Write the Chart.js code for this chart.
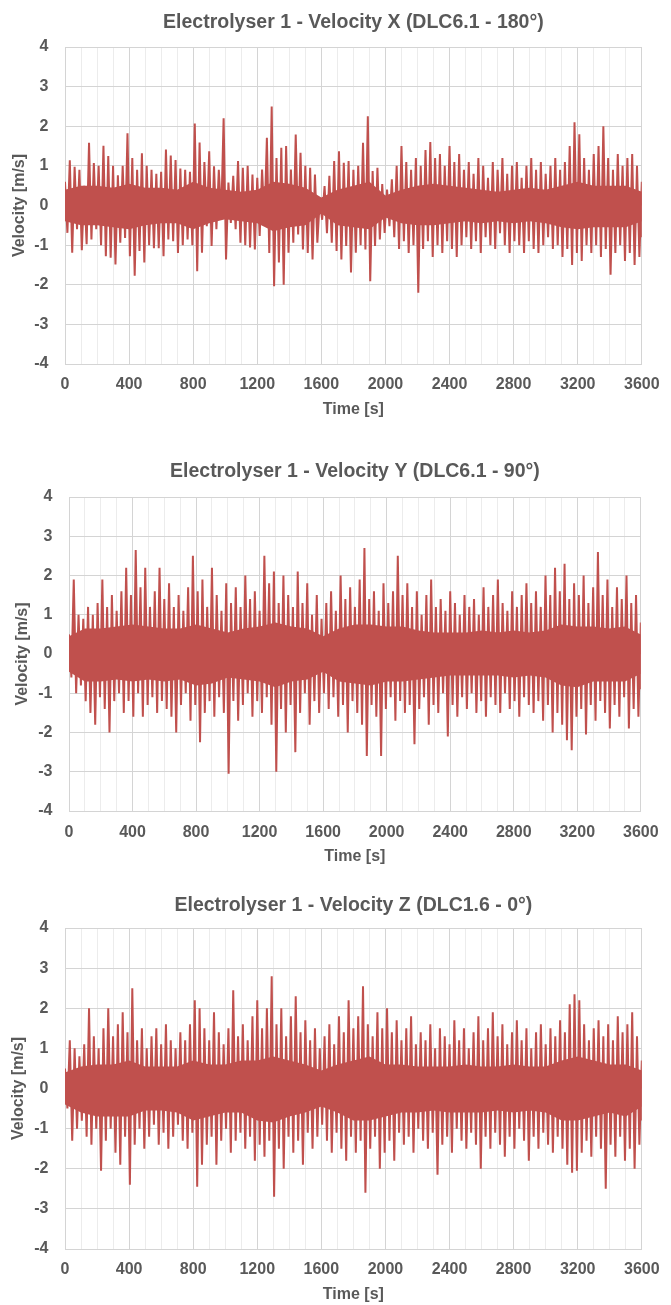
<!DOCTYPE html>
<html>
<head>
<meta charset="utf-8">
<script src="https://cdn.jsdelivr.net/npm/chart.js@4.4.1/dist/chart.umd.min.js"></script>
<style>
  html, body { margin: 0; padding: 0; background: #fff; }
  body { width: 671px; height: 1305px; position: relative; overflow: hidden; }
  .box { position: absolute; left: 0; width: 671px; }
</style>
</head>
<body>
<div class="box" style="top:0px;height:440px"><canvas id="chartX"></canvas></div>
<div class="box" style="top:440px;height:440px"><canvas id="chartY"></canvas></div>
<div class="box" style="top:880px;height:425px"><canvas id="chartZ"></canvas></div>
<script>
// time step between successive peaks (s); each step holds one upper and one lower value
const STEP = 30;
// the dense solid band of the signal is read every 100 s
const CORE_STEP = 100;

// Velocity X (DLC6.1 - 180 deg), upper / lower excursions every 30 s, 0..3600
const velXHigh = [
  0.6, 1.14, 0.98, 0.9, 0.5, 1.58, 1.07, 1.0, 1.51, 1.25,
  1.0, 0.76, 1.0, 1.82, 1.2, 0.9, 1.32, 1.0, 0.9, 0.8,
  0.85, 1.41, 1.26, 1.15, 0.93, 0.9, 0.85, 2.07, 1.59, 1.1,
  1.37, 0.99, 0.9, 2.2, 0.58, 0.75, 1.12, 0.95, 1.0, 0.78,
  0.7, 0.91, 1.71, 2.5, 1.2, 1.46, 1.5, 0.91, 1.79, 1.33,
  1.0, 0.95, 0.78, 0.15, 0.49, 0.75, 1.12, 1.37, 1.08, 1.12,
  0.9, 1.0, 1.58, 2.25, 0.87, 0.95, 0.54, 0.4, 0.66, 1.0,
  1.5, 1.1, 0.9, 1.2, 1.0, 1.4, 1.6, 1.2, 1.3, 1.0,
  1.5, 1.1, 1.3, 0.9, 1.1, 0.8, 1.2, 1.0, 0.7, 1.1,
  0.9, 1.2, 0.8, 1.0, 1.1, 0.7, 1.0, 1.2, 0.9, 1.1,
  0.8, 1.0, 1.2, 0.9, 1.1, 1.5, 2.1, 1.8, 1.2, 0.9,
  1.3, 1.5, 2.0, 1.2, 0.9, 1.3, 1.0, 1.2, 1.3, 1.0,
  0.6
];
const velXLow = [
  -0.69, -1.19, -0.6, -1.13, -0.98, -0.86, -0.6, -1.0, -1.28, -1.32,
  -1.49, -0.94, -0.82, -1.28, -1.77, -1.15, -1.44, -1.0, -1.08, -1.08,
  -1.28, -0.86, -0.9, -1.2, -1.0, -0.86, -1.0, -1.66, -1.19, -0.52,
  -1.02, -0.6, -0.27, -1.36, -0.44, -0.6, -0.94, -1.0, -1.06, -1.11,
  -0.77, -0.44, -1.2, -2.04, -1.44, -2.0, -1.19, -0.94, -0.73, -1.11,
  -1.2, -1.36, -0.94, -0.36, -0.7, -0.94, -1.15, -1.36, -1.02, -1.69,
  -1.19, -1.0, -1.11, -1.91, -1.02, -0.86, -0.69, -0.52, -0.8, -1.1,
  -0.9, -1.2, -1.0, -2.2, -1.1, -0.9, -1.3, -1.0, -1.2, -0.9,
  -1.1, -1.3, -1.0, -0.8, -1.1, -0.9, -1.2, -0.8, -1.0, -1.1,
  -0.7, -1.0, -1.2, -0.9, -1.0, -1.2, -0.9, -1.1, -1.2, -1.0,
  -0.8, -1.1, -1.0, -1.3, -1.1, -1.5, -1.2, -1.4, -1.0, -1.2,
  -1.0, -1.3, -1.1, -1.75, -1.2, -1.0, -1.4, -1.2, -1.5, -1.3,
  -0.8
];
const velXCoreHigh = [
  0.4, 0.5, 0.5, 0.45, 0.55, 0.45, 0.45, 0.4, 0.6, 0.45,
  0.4, 0.35, 0.4, 0.6, 0.55, 0.45, 0.2, 0.4, 0.5, 0.6,
  0.25, 0.4, 0.5, 0.55, 0.5, 0.45, 0.4, 0.35, 0.4, 0.45,
  0.4, 0.5, 0.6, 0.5, 0.5, 0.5, 0.35
];
const velXCoreLow = [
  -0.4, -0.5, -0.5, -0.55, -0.6, -0.5, -0.45, -0.45, -0.6, -0.45,
  -0.35, -0.4, -0.45, -0.65, -0.55, -0.5, -0.2, -0.5, -0.55, -0.6,
  -0.3, -0.45, -0.5, -0.5, -0.45, -0.4, -0.45, -0.4, -0.45, -0.4,
  -0.45, -0.55, -0.6, -0.55, -0.55, -0.55, -0.4
];

// Velocity Y (DLC6.1 - 90 deg)
const velYHigh = [
  0.5, 1.9, 1.0, 0.9, 1.2, 1.0, 1.3, 1.9, 1.2, 1.5,
  1.1, 1.6, 2.2, 1.5, 2.65, 1.7, 2.2, 1.2, 1.6, 2.2,
  1.4, 1.8, 1.2, 1.5, 1.1, 1.7, 2.5, 1.6, 1.9, 1.2,
  2.2, 1.5, 1.1, 1.8, 1.3, 1.7, 1.2, 2.0, 1.4, 1.6,
  1.1, 2.5, 1.8, 2.1, 1.3, 2.0, 1.5, 1.2, 2.1, 1.3,
  1.8, 1.0, 1.5, 0.9, 1.3, 1.6, 1.1, 2.0, 1.4, 1.7,
  1.2, 1.9, 2.7, 1.4, 1.6, 1.1, 1.8, 1.3, 1.6, 2.5,
  1.5, 1.8, 1.2, 1.6, 1.0, 1.5, 1.9, 1.2, 1.4, 1.1,
  1.6, 1.3, 1.0, 1.5, 1.2, 1.4, 1.0, 1.7, 1.2, 1.5,
  1.9, 1.3, 1.1, 1.6, 1.2, 1.5, 1.8, 1.3, 1.6, 1.2,
  2.0, 1.5, 2.2, 1.6, 2.3, 1.4, 1.8, 1.5, 2.0, 1.3,
  1.7, 2.6, 1.5, 1.9, 1.2, 1.7, 1.4, 2.0, 1.3, 1.5,
  0.8
];
const velYLow = [
  -0.6, -1.0, -0.8, -1.2, -1.5, -1.8, -1.1, -1.4, -2.0, -1.2,
  -1.0, -1.5, -1.2, -1.6, -1.0, -1.6, -1.3, -1.1, -1.5, -1.2,
  -1.4, -1.6, -2.0, -1.3, -1.0, -1.7, -1.3, -2.25, -1.5, -1.2,
  -1.6, -1.1, -1.5, -3.05, -1.2, -1.7, -1.3, -1.0, -1.6, -1.2,
  -1.5, -1.1, -1.8, -3.0, -1.4, -2.0, -1.3, -2.5, -1.5, -1.0,
  -1.8, -1.2, -1.5, -1.0, -1.4, -1.1, -1.6, -1.3, -2.0, -1.2,
  -1.5, -1.8, -2.6, -1.3, -1.6, -2.6, -1.4, -1.1, -1.7, -1.2,
  -1.5, -1.3, -2.3, -1.4, -1.1, -1.8, -1.3, -1.5, -1.0, -2.1,
  -1.3, -1.6, -1.1, -1.4, -1.0, -1.5, -1.2, -1.6, -1.1, -1.3,
  -1.5, -1.0, -1.4, -1.2, -1.6, -1.1, -1.3, -1.5, -1.2, -1.7,
  -1.3, -2.0, -1.5, -1.8, -2.2, -2.45, -1.6, -1.4, -2.05, -1.3,
  -1.7, -1.2, -1.5, -1.9, -1.3, -1.6, -1.1, -1.9, -1.4, -1.6,
  -0.9
];
const velYCoreHigh = [
  0.45, 0.65, 0.65, 0.7, 0.75, 0.7, 0.65, 0.65, 0.75, 0.65,
  0.55, 0.65, 0.7, 0.8, 0.7, 0.65, 0.45, 0.65, 0.75, 0.75,
  0.7, 0.7, 0.6, 0.55, 0.55, 0.55, 0.6, 0.55, 0.6, 0.55,
  0.6, 0.75, 0.7, 0.7, 0.65, 0.7, 0.5
];
const velYCoreLow = [
  -0.45, -0.7, -0.7, -0.65, -0.7, -0.65, -0.7, -0.65, -0.8, -0.75,
  -0.6, -0.65, -0.7, -0.85, -0.7, -0.65, -0.45, -0.7, -0.75, -0.8,
  -0.7, -0.7, -0.65, -0.6, -0.55, -0.55, -0.55, -0.55, -0.6, -0.55,
  -0.6, -0.8, -0.85, -0.7, -0.7, -0.7, -0.5
];

// Velocity Z (DLC1.6 - 0 deg)
const velZHigh = [
  0.5, 1.2, 1.0, 0.8, 1.1, 2.0, 1.3, 1.0, 1.5, 2.0,
  1.3, 1.6, 1.9, 1.4, 2.5, 1.2, 1.5, 1.0, 1.3, 1.5,
  1.1, 1.6, 1.2, 1.0, 1.4, 1.2, 1.6, 2.2, 2.0, 1.5,
  1.2, 1.9, 1.4, 1.1, 1.5, 2.45, 1.3, 1.6, 1.2, 1.8,
  2.2, 1.5, 2.0, 2.8, 1.6, 2.0, 1.3, 1.8, 2.3, 1.4,
  1.7, 1.2, 1.5, 1.0, 1.3, 1.6, 1.1, 1.8, 1.4, 2.2,
  1.5, 1.8, 2.55, 1.6, 1.3, 1.9, 1.5, 2.0, 1.4, 1.7,
  1.2, 1.5, 1.8, 1.1, 1.4, 1.2, 1.6, 1.0, 1.5, 1.3,
  1.1, 1.7, 1.2, 1.5, 1.0, 1.4, 1.8, 1.2, 1.5, 1.9,
  1.3, 1.6, 1.1, 1.4, 1.7, 1.2, 1.5, 1.0, 1.4, 1.6,
  1.1, 1.5, 1.3, 1.7, 1.4, 2.1, 2.35, 2.2, 1.6, 1.2,
  1.5, 1.7, 1.3, 1.6, 1.2, 1.8, 1.4, 1.6, 1.9, 1.3,
  0.7
];
const velZLow = [
  -0.5, -1.3, -1.0, -0.8, -1.2, -1.4, -1.0, -2.05, -1.3, -1.0,
  -1.6, -1.9, -1.2, -2.4, -1.4, -1.0, -1.5, -1.2, -0.9, -1.4,
  -1.1, -1.5, -1.2, -0.9, -1.3, -1.5, -1.1, -2.45, -1.9, -1.4,
  -1.2, -1.9, -1.3, -1.0, -1.6, -1.3, -1.1, -1.5, -1.2, -1.8,
  -1.4, -1.7, -1.3, -2.7, -1.5, -2.0, -1.2, -1.6, -1.3, -1.9,
  -1.1, -1.5, -1.2, -0.9, -1.3, -1.6, -1.1, -1.5, -1.8, -1.2,
  -1.6, -1.3, -2.6, -1.5, -1.2, -2.0, -1.6, -1.3, -1.8, -1.1,
  -1.4, -1.2, -1.6, -1.0, -1.3, -1.5, -1.1, -2.15, -1.4, -1.2,
  -1.6, -1.0, -1.3, -1.5, -1.1, -1.4, -2.0, -1.2, -1.5, -1.1,
  -1.4, -1.7, -1.2, -1.5, -1.0, -1.3, -1.8, -1.2, -1.5, -1.1,
  -1.4, -1.6, -1.2, -1.5, -1.9, -2.1, -2.05, -1.6, -1.3, -1.7,
  -1.2, -1.5, -2.5, -1.4, -1.7, -1.2, -1.8, -1.5, -2.0, -1.4,
  -0.8
];
const velZCoreHigh = [
  0.4, 0.55, 0.6, 0.6, 0.7, 0.55, 0.55, 0.55, 0.7, 0.6,
  0.6, 0.7, 0.7, 0.8, 0.7, 0.6, 0.45, 0.6, 0.7, 0.8,
  0.6, 0.6, 0.55, 0.55, 0.55, 0.6, 0.55, 0.55, 0.6, 0.55,
  0.55, 0.7, 0.8, 0.7, 0.6, 0.6, 0.45
];
const velZCoreLow = [
  -0.4, -0.6, -0.7, -0.7, -0.7, -0.55, -0.55, -0.6, -0.8, -0.7,
  -0.6, -0.6, -0.8, -0.85, -0.7, -0.6, -0.45, -0.6, -0.8, -0.8,
  -0.7, -0.6, -0.6, -0.55, -0.6, -0.6, -0.6, -0.55, -0.6, -0.55,
  -0.6, -0.8, -0.8, -0.7, -0.6, -0.7, -0.45
];

const RED = '#c0504d';
const TEXT = '#595959';
const GRID_MAJOR = '#d4d4d4';
const GRID_MINOR = '#ececec';
const FONT = '"Liberation Sans", Arial, sans-serif';

function buildPoints(high, low) {
  const pts = [];
  for (let i = 0; i < high.length; i++) {
    pts.push({ x: i * STEP, y: high[i] });
    pts.push({ x: Math.min(i * STEP + STEP / 2, 3600), y: low[i] });
  }
  return pts;
}

function corePoints(values) {
  return values.map((v, i) => ({ x: i * CORE_STEP, y: v }));
}

// keep the title centred over the plot area, as in the original
const centerTitle = {
  id: 'centerTitle',
  afterLayout(chart) {
    const t = chart.titleBlock;
    if (t) {
      t.left = chart.chartArea.left;
      t.right = chart.chartArea.right;
    }
  }
};

// g holds page coordinates of the canvas box and the plot area
function drawChart(id, title, series, g) {
  const rel = v => v - g.top;
  const axisFont = { family: FONT, size: 16, weight: 'bold' };
  new Chart(document.getElementById(id), {
    type: 'line',
    data: {
      datasets: [
        { data: corePoints(series.coreHigh), borderWidth: 0, pointRadius: 0, backgroundColor: RED, fill: '+1' },
        { data: corePoints(series.coreLow), borderWidth: 0, pointRadius: 0, fill: false },
        {
          data: buildPoints(series.high, series.low),
          borderColor: RED,
          backgroundColor: RED,
          borderWidth: 2,
          pointRadius: 0,
          fill: 'origin',
          tension: 0
        }
      ]
    },
    plugins: [centerTitle],
    options: {
      responsive: true,
      maintainAspectRatio: false,
      animation: false,
      layout: { padding: { top: rel(g.titleY) - 11.7, right: 671 - g.plotRight, left: 0, bottom: 0 } },
      plugins: {
        legend: { display: false },
        tooltip: { enabled: false },
        title: {
          display: true,
          text: title,
          color: TEXT,
          font: { family: FONT, size: 19.5, weight: 'bold' },
          padding: { top: 0, bottom: g.plotTop - g.titleY - 11.7 }
        }
      },
      scales: {
        x: {
          type: 'linear',
          min: 0,
          max: 3600,
          afterFit: s => { s.height = g.top + g.height - g.plotBottom; },
          ticks: {
            stepSize: 100,
            autoSkip: false,
            maxRotation: 0,
            padding: g.tickY - g.plotBottom - 9.6,
            color: TEXT,
            font: axisFont,
            callback: v => (v % 400 === 0 ? v : '')
          },
          grid: {
            drawTicks: false,
            color: c => (c.tick && c.tick.value % 400 === 0 ? GRID_MAJOR : GRID_MINOR)
          },
          border: { color: GRID_MAJOR },
          title: {
            display: true,
            text: 'Time [s]',
            color: TEXT,
            font: axisFont,
            padding: { top: 0, bottom: g.top + g.height - g.xTitleY - 9.6 }
          }
        },
        y: {
          min: -4,
          max: 4,
          afterFit: s => { s.width = g.plotLeft; },
          ticks: { stepSize: 1, padding: 16.5, color: TEXT, font: axisFont },
          grid: { drawTicks: false, color: GRID_MAJOR },
          border: { color: GRID_MAJOR },
          title: {
            display: true,
            text: 'Velocity [m/s]',
            color: TEXT,
            font: axisFont,
            padding: { top: g.yTitleX - 9.6, bottom: 0 }
          }
        }
      }
    }
  });
}

drawChart('chartX', 'Electrolyser 1 - Velocity X (DLC6.1 - 180°)',
  { high: velXHigh, low: velXLow, coreHigh: velXCoreHigh, coreLow: velXCoreLow },
  { top: 0, height: 440, titleY: 23, plotTop: 47, plotBottom: 364, plotLeft: 65, plotRight: 651, tickY: 385, xTitleY: 410, yTitleX: 20 });
drawChart('chartY', 'Electrolyser 1 - Velocity Y (DLC6.1 - 90°)',
  { high: velYHigh, low: velYLow, coreHigh: velYCoreHigh, coreLow: velYCoreLow },
  { top: 440, height: 440, titleY: 471.5, plotTop: 497, plotBottom: 811, plotLeft: 69, plotRight: 648, tickY: 833, xTitleY: 857, yTitleX: 23 });
drawChart('chartZ', 'Electrolyser 1 - Velocity Z (DLC1.6 - 0°)',
  { high: velZHigh, low: velZLow, coreHigh: velZCoreHigh, coreLow: velZCoreLow },
  { top: 880, height: 425, titleY: 905.5, plotTop: 928, plotBottom: 1249, plotLeft: 65, plotRight: 649, tickY: 1270, xTitleY: 1295, yTitleX: 19 });
</script>
</body>
</html>
